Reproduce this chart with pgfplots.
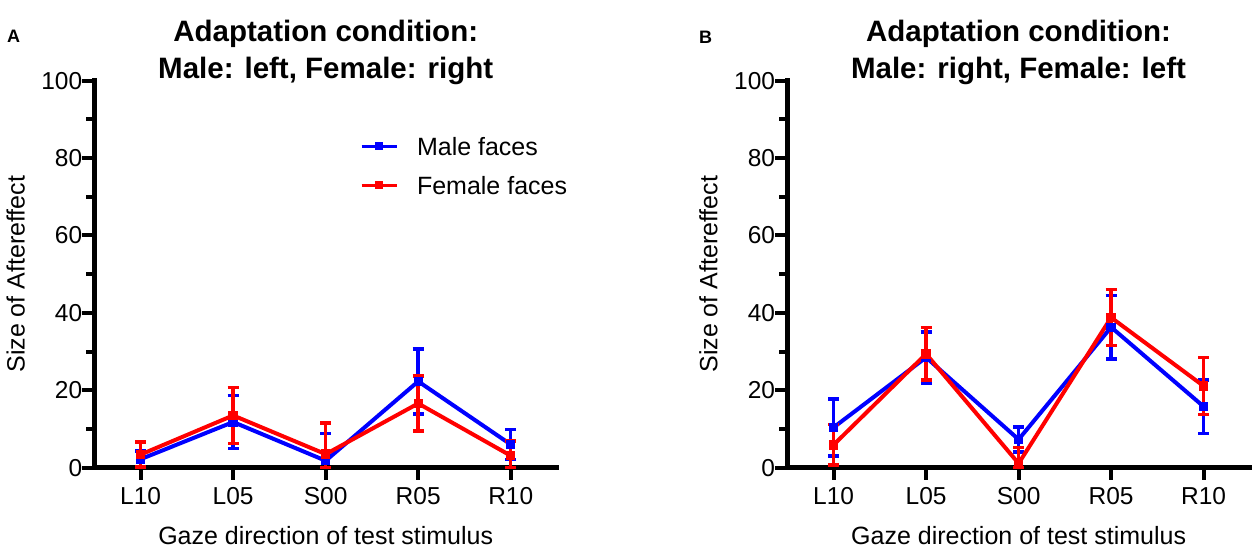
\documentclass[border=0pt]{standalone}
\usepackage{fontspec}
\setmainfont{Liberation Sans}
\usepackage{pgfplots}
\usepackage{pgfplotstable}
\pgfplotsset{compat=1.18}
\definecolor{pblue}{RGB}{0,0,255}
\definecolor{pred}{RGB}{255,0,0}

\pgfplotstableread{
x y ep em
0 2.2 2.1 2.1
1 11.8 6.8 6.8
2 1.8 7.1 1.8
3 22.3 8.4 8.4
4 6.0 3.9 3.9
}\leftmale
\pgfplotstableread{
x y ep em
0 3.4 3.2 3.2
1 13.5 7.2 7.2
2 3.5 8.0 3.5
3 16.6 7.1 7.1
4 3.1 3.8 3.1
}\leftfemale
\pgfplotstableread{
x y ep em
0 10.4 7.4 7.4
1 28.5 6.6 6.6
2 7.3 3.2 3.2
3 36.3 8.2 8.2
4 15.8 6.9 6.9
}\rightmale
\pgfplotstableread{
x y ep em
0 5.9 5.2 5.2
1 29.4 6.8 6.8
2 1.1 4.1 1.1
3 38.8 7.2 7.2
4 21.1 7.4 7.4
}\rightfemale

\pgfplotsset{
  panel/.style={
    scale only axis, width=462.6pt, height=387pt,
    xmin=-0.5, xmax=4.5, ymin=0, ymax=100,
    axis x line*=bottom, axis y line*=left,
    axis line style={line width=4.5pt, line cap=rect, black},
    xtick={0,...,4}, xticklabels={L10,L05,S00,R05,R10},
    ytick={0,20,...,100}, minor ytick={10,30,...,90},
    tick align=outside,
    major tick length=12pt, minor tick length=8pt,
    tick style={black, line width=4pt},
    tick label style={font=\fontsize{24.5}{28}\selectfont},
    /pgf/number format/assume math mode=true,
    yticklabel style={inner sep=0pt, anchor=east},
    xticklabel style={inner sep=0pt, anchor=north, yshift=-7pt},
    clip=false,
    xlabel={Gaze direction of test stimulus},
    ylabel={Size of Aftereffect},
    label style={font=\fontsize{25}{30}\selectfont},
    xlabel style={at={(axis description cs:0.5,-0.1972)}, anchor=base, inner sep=0pt},
    ylabel style={at={(axis description cs:-0.151,0.5)}, anchor=base, inner sep=0pt, rotate=0},
  },
  male/.style={pblue, line width=4pt, mark=square*, mark size=4.2pt,
    mark options={solid, line width=1pt},
    error bars/.cd, y dir=both, y explicit,
    error bar style={line width=3.5pt, pblue},
    error mark options={rotate=90, line width=3.5pt, mark size=5.5pt, pblue}},
  female/.style={pred, line width=4pt, mark=square*, mark size=4.2pt,
    mark options={solid, line width=1pt},
    error bars/.cd, y dir=both, y explicit,
    error bar style={line width=3.5pt, pred},
    error mark options={rotate=90, line width=3.5pt, mark size=5.5pt, pred}},
}

\begin{document}
\begin{tikzpicture}
\path[use as bounding box] (0pt,0pt) rectangle (1258pt,548pt);

% ---------------- Panel A ----------------
\begin{axis}[panel, at={(94.4pt,80.3pt)}, anchor=south west,
  legend style={at={(rel axis cs:0.5742,0.8537)}, anchor=north west,
    draw=none, fill=none, inner sep=0pt, outer sep=0pt,
    font=\fontsize{25}{30}\selectfont,
    nodes={inner sep=0pt, text height=18pt, text depth=0pt},
    row sep=21pt,
    /tikz/every odd column/.append style={column sep=19pt}},
  legend cell align=left,
  legend image code/.code={
    \draw[#1, line width=3pt, mark size=3.5pt, mark repeat=2, mark phase=2]
      plot coordinates {(0pt,0pt) (17.5pt,0pt) (35pt,0pt)};}
]
\addplot[male] table[x=x, y=y, y error plus=ep, y error minus=em] {\leftmale};
\addlegendentry{Male faces}
\addplot[female] table[x=x, y=y, y error plus=ep, y error minus=em] {\leftfemale};
\addlegendentry{Female faces}
\end{axis}

% ---------------- Panel B ----------------
\begin{axis}[panel, at={(787.3pt,80.3pt)}, anchor=south west]
\addplot[male] table[x=x, y=y, y error plus=ep, y error minus=em] {\rightmale};
\addplot[female] table[x=x, y=y, y error plus=ep, y error minus=em] {\rightfemale};
\end{axis}

% titles
\node[anchor=base, inner sep=0pt, font=\fontsize{29.5}{34}\selectfont\bfseries] at (325.7pt,506pt) {Adaptation condition:};
\node[anchor=base, inner sep=0pt, font=\fontsize{29.5}{34}\selectfont\bfseries] at (325.7pt,469pt) {Male: left, Female: right};
\node[anchor=base, inner sep=0pt, font=\fontsize{29.5}{34}\selectfont\bfseries] at (1018.5pt,506pt) {Adaptation condition:};
\node[anchor=base, inner sep=0pt, font=\fontsize{29.5}{34}\selectfont\bfseries] at (1018.5pt,469pt) {Male: right, Female: left};
% panel letters
\node[anchor=base west, inner sep=0pt, font=\fontsize{18}{20}\selectfont\bfseries] at (7pt,505pt) {A};
\node[anchor=base west, inner sep=0pt, font=\fontsize{18}{20}\selectfont\bfseries] at (699pt,504pt) {B};
\end{tikzpicture}
\end{document}
